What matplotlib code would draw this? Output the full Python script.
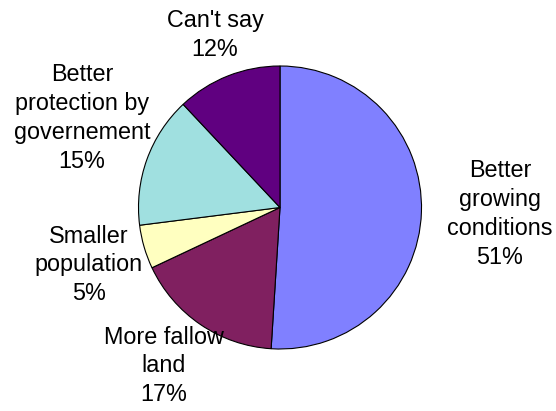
import matplotlib
matplotlib.use("Agg")
import matplotlib.pyplot as plt

categories = ["Better\ngrowing\nconditions", "More fallow\nland", "Smaller\npopulation",
              "Better\nprotection by\ngovernement", "Can't say"]
values = [51, 17, 5, 15, 12]
colors = ["#8080FF", "#802060", "#FFFFC0", "#A0E0E0", "#600080"]

W, H = 556, 411
fig = plt.figure(figsize=(W / 100, H / 100), dpi=100)
ax = fig.add_axes([0, 0, 1, 1])

cx, cy, r = 280, H - 207.5, 141.5
ax.pie(values, colors=colors, startangle=90, counterclock=False,
       center=(cx, cy), radius=r, frame=True,
       wedgeprops=dict(edgecolor="black", linewidth=0.8))
ax.set_xlim(0, W)
ax.set_ylim(0, H)
ax.axis("off")

# label block centres (x, y from top)
label_pos = [(500, 214), (164, 366), (89, 265), (82, 118), (215, 35)]
for cat, v, (lx, ly) in zip(categories, values, label_pos):
    ax.text(lx, H - ly, f"{cat}\n{v}%", ha="center", va="center",
            fontsize=16.8, family="Liberation Sans", linespacing=1.32,
            color="black")

fig.savefig("out.png", dpi=100)
